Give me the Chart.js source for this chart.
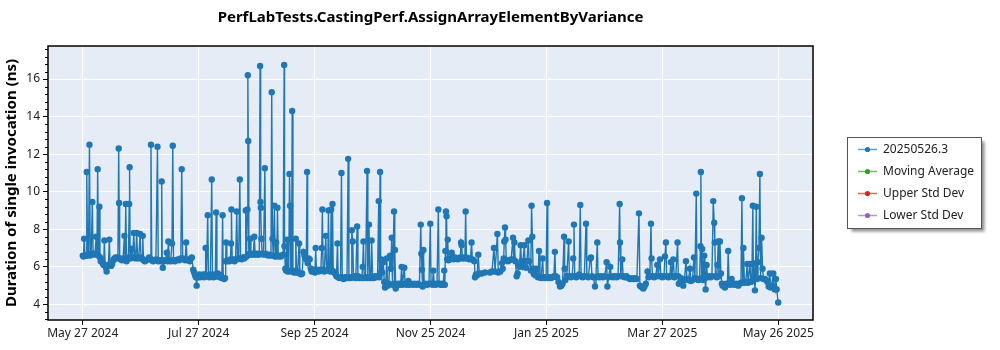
<!DOCTYPE html>
<html>
<head>
<meta charset="utf-8">
<script src="https://cdn.jsdelivr.net/npm/chart.js@4.4.1/dist/chart.umd.min.js"></script>
<style>
  html, body { margin: 0; padding: 0; background: #fff; }
  #wrap { width: 1000px; height: 350px; }
</style>
</head>
<body>
<div id="wrap"><canvas id="perfChart" width="1000" height="350"></canvas></div>
<script>
// x values are days since May 27 2024, y values are ns per invocation
const tickDays = [0, 60.67, 121.33, 182, 242.67, 303.33, 364];
const tickLabels = ['May 27 2024', 'Jul 27 2024', 'Sep 25 2024', 'Nov 25 2024', 'Jan 25 2025', 'Mar 27 2025', 'May 26 2025'];
const yTicks = [4, 6, 8, 10, 12, 14, 16];
const seriesNames = ['20250526.3', 'Moving Average', 'Upper Std Dev', 'Lower Std Dev'];

const juneRuns = [
  [0,6.6],[0.4,6.55],[0.7,7.5],[1.2,6.6],[1.7,6.6],[2.1,11.05],[2.5,6.6],[3.0,6.65],[3.5,12.5],[3.9,6.6],
  [4.4,6.7],[5.0,9.45],[5.4,6.7],[5.9,6.65],[6.4,6.7],[7.0,7.6],[7.4,6.7],[7.8,11.2],[8.2,6.6],[8.7,9.2],
  [9.0,6.5],[9.4,6.3],[9.9,6.4],[10.4,6.2],[10.9,6.1],[11.3,7.4],[11.7,6.1],[12.2,5.95],[12.5,5.75],[12.9,6.05],
  [13.4,6.1],[13.9,7.45],[14.3,6.1],[14.8,6.05],[15.4,6.15],[16.0,6.35],[16.6,6.45],[17.2,6.5],[17.8,6.45],[18.4,6.5],
  [18.8,12.3],[19.0,9.4],[19.3,6.45],[19.9,6.4],[20.5,6.35],[21.1,6.45],[21.8,7.65],[22.1,6.35],[22.5,9.35],[22.9,6.3],
  [23.4,6.4],[23.9,6.5],[24.3,9.35],[24.5,11.3],[24.8,6.45],[25.6,6.95],[26.1,6.5],[26.7,7.8],[27.2,6.5],[27.7,6.45],
  [28.2,7.8],[28.7,6.5],[29.3,6.45],[30.0,7.75],[30.5,6.5],[31.0,6.45],[31.4,7.65],[31.8,6.35],[32.5,6.3],[33.2,6.35],
  [34.0,6.4],[34.7,6.5],[35.3,6.45],[35.7,12.5],[36.1,6.35],[36.8,6.3],[37.6,6.35],[38.3,6.4],[39.1,12.4],[39.5,6.3],
  [40.2,6.35],[41.0,6.3],[41.3,10.55],[41.6,6.35],[41.9,5.95],[42.5,6.3],[43.2,6.35],[44.0,6.75],[44.4,6.3],[44.8,7.35],
  [45.3,6.35],[46.0,6.3],[46.7,7.25],[47.1,12.45],[47.5,6.35],[48.2,6.3],[49.0,6.35],[49.8,6.4],[50.5,6.35],[51.3,6.45],
  [51.8,11.2],[52.3,6.45],[53.0,6.4],[53.6,6.35],[54.1,7.3],[54.6,6.4],[55.3,6.35],[56.0,6.3],[56.6,6.45],[57.1,6.5]
];

const julyRuns = [
  [57.8,5.85],[58.3,5.7],[58.8,5.55],[59.2,5.45],[59.6,5.0],[60.0,5.5],[60.5,5.45],[61.0,5.6],[61.5,5.45],[62.0,5.55],
  [62.5,5.5],[63.0,5.6],[63.5,5.45],[64.0,5.6],[64.3,7.0],[64.7,5.5],[65.4,8.75],[65.8,5.5],[66.3,5.45],[66.8,5.6],
  [67.5,10.65],[67.9,5.5],[68.4,5.45],[68.9,5.6],[69.4,5.5],[69.8,8.9],[70.2,5.5],[70.7,5.65],[71.2,5.5],[71.8,5.45],
  [72.3,5.55],[72.8,5.4],[73.2,8.75],[73.5,5.4],[74.0,5.35],[74.5,5.4]
];

const augustRuns = [
  [74.8,6.3],[75.0,7.3],[75.4,6.3],[76.3,6.35],[76.8,6.3],[77.3,6.4],[77.6,7.25],[77.8,9.05],[78.2,6.35],[78.8,6.4],
  [79.4,6.3],[80.0,6.4],[80.6,8.95],[81.0,6.4],[81.6,6.45],[82.2,10.65],[82.6,6.45],[83.2,6.4],[83.8,6.5],[84.4,6.45],
  [85.0,6.5],[85.3,9.0],[85.7,6.55],[86.2,9.05],[86.4,16.2],[86.6,12.7],[86.9,6.65],[87.3,6.7],[87.6,7.5],[88.0,6.65],
  [88.6,6.7],[89.2,6.65],[89.8,7.6],[90.2,6.7],[90.8,6.65],[91.4,6.7],[92.0,6.65],[92.4,6.7],[92.8,16.7],[93.0,9.45],
  [93.2,9.15],[93.5,7.5],[93.9,6.7],[94.6,6.65],[95.3,11.25],[95.7,6.7],[96.4,6.65],[97.1,6.6],[97.8,6.65],[98.5,6.6],
  [98.9,15.3],[99.3,7.5],[99.7,6.6],[100.3,9.25],[100.7,6.55],[101.2,7.3],[101.6,6.6],[101.9,9.15],[102.3,6.55],[103.0,6.6],
  [103.7,6.55],[104.3,6.6],[104.9,6.65],[105.4,16.75],[105.6,7.1],[106.0,5.9],[106.4,5.8],[106.9,7.45],[107.3,5.75],[107.8,5.8],
  [108.2,10.95],[108.5,9.25],[108.9,5.75],[109.3,5.8],[109.6,14.3],[110.0,5.75],[110.6,5.7],[111.1,5.8],[111.5,7.5],[111.9,5.7],
  [112.5,5.75],[113.2,7.25],[113.6,5.65],[114.2,5.6],[114.8,5.65],[115.5,6.8],[116.0,6.6],[116.6,6.45],[117.0,6.4],[117.4,11.05],
  [117.7,6.2],[118.2,6.45],[118.8,6.4]
];

const autumnRuns = [
  [119.4,5.9],[119.8,5.75],[120.4,5.85],[121.0,5.8],[121.5,5.7],[121.9,7.0],[122.3,5.8],[122.9,5.85],[123.5,5.75],[124.1,5.8],
  [124.6,5.85],[125.1,7.0],[125.4,9.05],[125.8,5.8],[126.4,5.75],[127.2,7.65],[127.6,5.8],[128.2,5.85],[128.6,9.0],[129.0,5.8],
  [129.6,5.75],[130.0,9.05],[130.4,5.8],[130.7,9.35],[131.1,5.75],[131.7,5.7],[132.3,5.6],[132.8,5.5],[133.3,7.25],[133.7,5.45],
  [134.3,5.4],[134.9,5.45],[135.4,11.0],[135.8,5.4],[136.5,5.35],[137.1,5.45],[137.7,5.4],[138.3,5.45],[138.9,11.75],[139.3,5.4],
  [139.9,5.45],[140.4,5.4],[140.8,7.95],[141.3,7.35],[141.7,5.45],[142.3,5.5],[142.9,5.4],[143.6,8.15],[144.0,5.5],[144.6,5.4],
  [145.3,5.45],[146.0,5.4],[146.5,6.0],[146.9,7.35],[147.3,5.4],[148.0,5.45],[148.8,11.1],[149.2,5.4],[149.8,8.25],[150.2,5.45],
  [150.8,5.4],[151.2,7.4],[151.7,5.45],[152.3,5.4],[153.0,5.5],[153.6,5.45],[154.3,5.5],[154.9,9.5],[155.3,5.45]
];

const winterRuns = [
  [155.6,11.05],[155.9,5.7],[156.3,6.4],[156.7,5.7],[157.3,6.25],[157.8,5.2],[158.2,4.9],[158.6,5.1],[159.1,6.45],[159.6,5.0],
  [160.2,5.1],[160.8,6.6],[161.2,5.9],[161.7,7.55],[162.1,5.05],[162.9,8.95],[163.2,5.1],[163.4,6.9],[163.8,4.85],[164.4,5.05],
  [165.1,5.1],[165.8,5.05],[166.4,5.1],[166.9,6.0],[167.3,5.05],[168.3,5.95],[168.7,5.1],[169.4,5.05],[170.4,5.25],[170.9,5.05],
  [171.8,5.1],[172.7,5.05],[173.6,5.1],[174.5,5.05],[175.4,5.1],[176.2,5.05],[176.9,8.25],[177.2,6.7],[177.5,5.85],[177.9,4.95],
  [178.3,6.9],[178.7,5.05],[179.5,5.1],[180.4,5.05],[181.2,5.1],[181.9,8.3],[182.3,5.1],[183.0,5.05],[183.5,5.8],[183.9,5.1],
  [184.7,5.05],[185.4,5.1],[186.1,9.05],[186.5,5.1],[187.2,5.05],[187.9,5.1],[188.6,5.05],[189.2,5.8],[189.5,5.05],[189.8,6.85],
  [190.1,8.95],[190.4,8.7],[190.7,6.4],[191.0,7.45],[191.4,6.35],[191.9,6.45],[192.5,6.4],[193.1,6.75],[193.6,6.45],[194.2,6.4],
  [194.9,6.5],[195.6,6.45],[196.3,6.4],[197.0,6.45],[197.6,6.5],[198.0,7.3],[198.3,7.15],[198.7,6.45],[199.4,6.5],[200.0,6.45],
  [200.4,8.95],[200.8,6.5],[201.5,6.45],[202.2,6.4],[202.9,6.45],[203.5,7.3],[203.9,6.4],[204.5,6.35],[205.0,6.3],[205.3,5.45],
  [205.8,5.6],[206.4,5.55],[207.0,6.65],[207.5,5.65],[208.8,5.65],[210.5,5.7],[213.1,5.7],[214.2,5.75],[215.2,7.0],[215.8,5.75],
  [217.0,7.75],[217.5,5.7],[218.5,5.75],[219.4,6.2],[219.8,5.9],[220.3,6.45],[220.6,7.35],[221.0,8.1],[221.3,7.45],[221.7,6.35],
  [222.5,6.3],[223.3,6.35],[224.2,6.4],[225.2,7.55],[225.5,6.4],[225.9,7.3],[226.4,6.3],[227.1,5.5],[227.6,5.65],[228.1,6.05],
  [228.6,6.0],[229.2,7.15],[229.6,6.3],[230.2,6.0],[231.1,7.15],[231.5,6.3],[232.0,5.95],[232.5,6.3],[233.2,7.4],[233.6,6.3]
];

const springRuns = [
  [234.5,5.8],[234.9,9.25],[235.3,7.6],[235.7,5.9],[236.1,5.6],[236.6,5.8],[237.2,5.9],[237.8,5.5],[238.3,5.45],[238.8,6.85],
  [239.3,5.45],[239.9,5.4],[240.7,6.45],[241.1,5.45],[241.8,5.4],[242.5,5.45],[243.0,9.4],[243.4,5.4],[244.2,5.45],[245.0,5.4],
  [245.8,5.45],[246.6,5.5],[247.1,6.8],[247.5,5.5],[248.3,5.45],[249.0,5.2],[249.8,4.95],[250.5,5.0],[251.1,5.1],[251.9,7.6],
  [252.2,5.9],[252.6,5.3],[253.3,5.5],[254.3,7.35],[254.7,5.5],[255.5,5.45],[256.2,5.5],[256.7,6.45],[257.1,8.25],[257.5,5.5],
  [258.3,5.45],[259.1,5.5],[259.8,5.6],[260.4,9.3],[260.8,5.5],[261.6,5.45],[262.5,5.5],[263.4,8.3],[263.8,5.5],[264.6,5.45],
  [265.6,6.45],[266.0,6.5],[266.5,5.5],[267.3,5.45],[268.1,4.95],[268.6,5.45],[269.3,7.3],[269.7,5.5],[270.5,5.45],[271.4,5.5],
  [272.3,5.45],[273.2,5.5],[274.2,6.25],[274.6,4.95],[275.2,5.45],[276.1,6.0],[276.6,5.5],[277.5,5.45],[278.4,5.5],[279.3,5.45],
  [280.2,5.5],[281.0,9.35],[281.2,7.3],[281.6,5.5],[282.4,6.4],[282.8,5.5],[283.7,5.45],[284.6,5.5],[285.5,5.4],[286.4,5.35],
  [287.3,5.4],[288.2,5.35],[289.1,5.4],[290.0,5.35],[291.1,8.85],[291.6,5.0],[292.2,4.95],[292.8,4.9],[293.4,4.85],[294.0,4.95],
  [294.7,5.1],[295.6,5.75],[296.1,5.45],[296.8,5.5],[297.4,8.3],[297.7,6.45],[298.2,5.5],[299.0,5.45],[299.8,5.5],[300.7,6.1],
  [301.2,5.5],[302.1,6.4],[302.6,5.5],[303.4,5.45],[304.2,5.5],[304.7,6.55],[305.2,7.3],[305.6,5.5],[306.5,5.45],[307.3,5.5],
  [307.8,6.25],[308.3,5.5],[309.1,6.4],[309.6,5.45],[310.4,5.5],[311.3,7.3],[311.7,5.5],[312.0,5.1]
];

const mayRuns = [
  [312.5,5.15],[313.2,5.4],[314.3,5.0],[314.9,5.3],[315.7,6.3],[316.2,5.35],[317.0,5.3],[317.8,5.9],[318.3,5.25],[319.1,5.3],
  [319.9,6.5],[320.4,5.4],[321.1,9.9],[321.5,5.35],[322.2,5.3],[322.8,5.35],[323.3,7.1],[323.5,11.05],[323.9,5.4],[324.2,6.95],
  [324.7,5.3],[325.3,6.6],[325.6,5.4],[326.0,4.8],[326.5,6.1],[327.0,5.45],[327.8,5.5],[328.6,5.45],[329.3,5.5],[330.0,9.5],
  [330.5,8.35],[330.8,7.3],[331.2,5.5],[331.8,5.45],[332.2,6.1],[332.6,7.35],[333.0,5.5],[333.5,7.35],[334.0,5.65],[334.5,5.1],
  [334.9,5.0],[335.5,5.05],[336.1,4.9],[336.8,5.1],[337.4,5.05],[337.8,6.85],[338.3,5.1],[339.0,5.05],[339.6,5.35],[340.3,5.1],
  [341.1,5.05],[342.0,5.1],[343.1,5.0],[343.8,5.1],[344.5,5.15],[345.0,9.65],[345.4,5.15],[345.8,7.0],[346.3,5.15],[347.0,5.2],
  [347.8,6.15],[348.2,5.15],[349.2,6.15],[349.7,5.2],[350.2,5.25],[350.7,9.25],[351.0,5.3],[351.3,6.2],[351.8,4.75],[352.1,5.35],
  [352.5,9.2],[352.9,5.35],[353.4,6.25],[353.9,7.0],[354.4,10.95],[354.8,5.4],[355.3,7.55],[355.8,5.9],[356.3,5.35],[357.0,5.35],
  [357.7,5.3],[358.4,5.2],[359.0,4.95],[359.6,5.65],[360.1,4.9],[360.6,5.0],[361.4,5.65],[361.8,4.95],[362.2,4.8],[362.8,5.35],
  [363.2,4.8],[364.0,4.1]
];

const runs = [juneRuns, julyRuns, augustRuns, autumnRuns, winterRuns, springRuns, mayRuns]
  .flat()
  .map(([x, y]) => ({ x, y }));

const colors = ['#1f77b4', '#2ca02c', '#d62728', '#9467bd'];
const FONT = "'Noto Sans', 'DejaVu Sans', sans-serif";

// plot background, frame, minor y ticks, title and the boxed legend
const decorations = {
  id: 'decorations',
  beforeDraw(chart) {
    const { ctx, chartArea: a } = chart;
    ctx.save();
    ctx.fillStyle = '#e5ecf6';
    ctx.fillRect(a.left, a.top, a.right - a.left, a.bottom - a.top);
    ctx.restore();
  },
  afterDraw(chart) {
    const { ctx, chartArea: a } = chart;
    const y = chart.scales.y;
    ctx.save();

    ctx.strokeStyle = '#000';
    ctx.lineWidth = 1.5;
    ctx.strokeRect(a.left, a.top, a.right - a.left, a.bottom - a.top);

    // minor ticks, five per major step
    ctx.lineWidth = 1;
    for (let v = y.min; v <= y.max; v += 0.1) {
      const r = Math.round(v * 10) / 10;
      if (Math.abs(r * 10 % 4) > 0.01 || r % 2 === 0) continue;
      const py = Math.round(y.getPixelForValue(r)) + 0.5;
      ctx.beginPath();
      ctx.moveTo(a.left - 3, py);
      ctx.lineTo(a.left, py);
      ctx.stroke();
    }

    ctx.fillStyle = '#000';
    ctx.font = 'bold 15px ' + FONT;
    ctx.textAlign = 'center';
    ctx.textBaseline = 'middle';
    ctx.fillText('PerfLabTests.CastingPerf.AssignArrayElementByVariance', (a.left + a.right) / 2, 18);

    // legend box
    const bx = 847.5, by = 137.5, bw = 134, bh = 91;
    ctx.save();
    ctx.shadowColor = 'rgba(0,0,0,0.45)';
    ctx.shadowOffsetX = 3;
    ctx.shadowOffsetY = 3;
    ctx.shadowBlur = 3;
    ctx.fillStyle = '#fff';
    ctx.fillRect(bx, by, bw, bh);
    ctx.restore();
    ctx.strokeStyle = '#555';
    ctx.lineWidth = 1;
    ctx.strokeRect(bx, by, bw, bh);

    ctx.font = '12px ' + FONT;
    ctx.textAlign = 'left';
    chart.data.datasets.forEach((ds, i) => {
      const ry = 149.5 + i * 22;
      ctx.globalAlpha = 0.7;
      ctx.strokeStyle = ds.borderColor;
      ctx.lineWidth = 1.5;
      ctx.beginPath();
      ctx.moveTo(858, ry);
      ctx.lineTo(877, ry);
      ctx.stroke();
      ctx.globalAlpha = 1;
      ctx.fillStyle = ds.borderColor;
      ctx.beginPath();
      ctx.arc(867.5, ry, 2.6, 0, Math.PI * 2);
      ctx.fill();
      ctx.fillStyle = '#222';
      ctx.fillText(ds.label, 883, ry);
    });
    ctx.restore();
  }
};

new Chart(document.getElementById('perfChart'), {
  type: 'line',
  data: {
    datasets: [
      {
        label: seriesNames[0],
        data: runs,
        borderColor: colors[0],
        backgroundColor: colors[0],
        borderWidth: 1.4,
        pointRadius: 3.2,
        pointBorderWidth: 0,
        pointBackgroundColor: colors[0],
        tension: 0
      },
      { label: seriesNames[1], data: [], borderColor: colors[1], backgroundColor: colors[1] },
      { label: seriesNames[2], data: [], borderColor: colors[2], backgroundColor: colors[2] },
      { label: seriesNames[3], data: [], borderColor: colors[3], backgroundColor: colors[3] }
    ]
  },
  options: {
    responsive: false,
    animation: false,
    devicePixelRatio: 1,
    layout: { padding: { top: 46, right: 187, left: 0, bottom: 0 } },
    plugins: {
      legend: { display: false },
      title: { display: false },
      tooltip: { enabled: false }
    },
    scales: {
      x: {
        type: 'linear',
        min: -18.2,
        max: 382.2,
        afterBuildTicks: s => { s.ticks = tickDays.map(v => ({ value: v })); },
        afterFit: s => { s.height = 30; },
        ticks: {
          callback: (v, i) => tickLabels[i],
          autoSkip: false,
          maxRotation: 0,
          padding: 1,
          color: '#222',
          font: { family: FONT, size: 12 }
        },
        grid: { color: '#ffffff', lineWidth: 1, tickColor: '#000', tickLength: 5 },
        border: { display: false }
      },
      y: {
        min: 3.17,
        max: 17.76,
        afterBuildTicks: s => { s.ticks = yTicks.map(v => ({ value: v })); },
        afterFit: s => { s.width = 48; },
        ticks: {
          padding: 3,
          color: '#222',
          font: { family: FONT, size: 12 }
        },
        grid: { color: '#ffffff', lineWidth: 1, tickColor: '#000', tickLength: 5 },
        border: { display: false },
        title: {
          display: true,
          text: 'Duration of single invocation (ns)',
          color: '#000',
          font: { family: FONT, size: 15, weight: 'bold' },
          padding: { top: 3, bottom: 0 }
        }
      }
    }
  },
  plugins: [decorations]
});
</script>
</body>
</html>
